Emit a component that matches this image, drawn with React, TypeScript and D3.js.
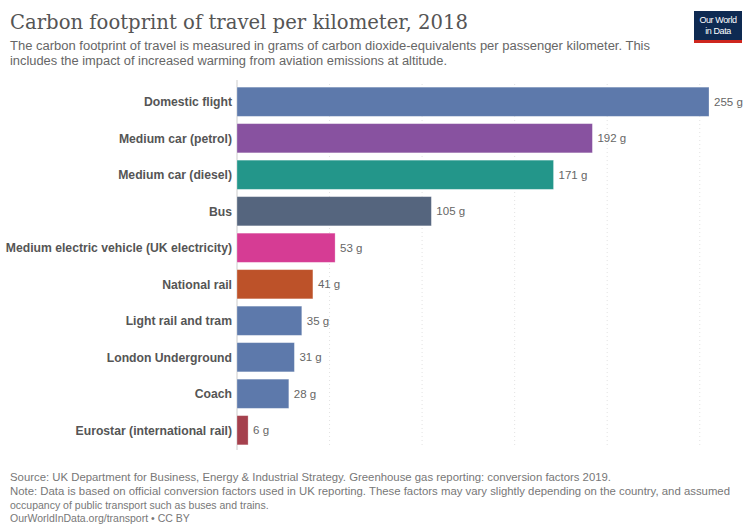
import React from "react";
import * as d3 from "d3";

const categories = [
  "Domestic flight",
  "Medium car (petrol)",
  "Medium car (diesel)",
  "Bus",
  "Medium electric vehicle (UK electricity)",
  "National rail",
  "Light rail and tram",
  "London Underground",
  "Coach",
  "Eurostar (international rail)",
];
const values = [255, 192, 171, 105, 53, 41, 35, 31, 28, 6];
const colors = [
  "#5d79ab",
  "#8852a0",
  "#23968a",
  "#55657e",
  "#d63c94",
  "#bd5229",
  "#5d79ab",
  "#5d79ab",
  "#5d79ab",
  "#a5404d",
];
const gridTicks = [50, 100, 150, 200, 250];

const W = 748;
const H = 524;

export default function App() {
  const x = d3.scaleLinear().domain([0, 255]).range([237, 709]);
  const y = d3
    .scaleBand<string>()
    .domain(categories)
    .range([83.5, 448.5])
    .paddingInner(0.2)
    .paddingOuter(0.1);
  const sans = "'Liberation Sans', Arial, sans-serif";
  return (
    <svg
      width={W}
      height={H}
      viewBox={`0 0 ${W} ${H}`}
      style={{ position: "absolute", left: 0, top: 0, background: "#fff" }}
    >
      <rect width={W} height={H} fill="#fff" />
      <text
        x={10}
        y={29}
        fontFamily="'DejaVu Serif', 'Liberation Serif', serif"
        fontSize={20}
        fill="#555"
        textLength={458}
        lengthAdjust="spacingAndGlyphs"
      >
        Carbon footprint of travel per kilometer, 2018
      </text>
      <text x={10} y={50} fontFamily={sans} fontSize={12} fill="#666" textLength={640} lengthAdjust="spacingAndGlyphs">
        The carbon footprint of travel is measured in grams of carbon dioxide-equivalents per passenger kilometer. This
      </text>
      <text x={10} y={65} fontFamily={sans} fontSize={12} fill="#666" textLength={437} lengthAdjust="spacingAndGlyphs">
        includes the impact of increased warming from aviation emissions at altitude.
      </text>
      {/* logo */}
      <rect x={694} y={11} width={48} height={32} fill="#0e2a52" />
      <rect x={694} y={40} width={48} height={3} fill="#ce261e" />
      <text x={718} y={23} textAnchor="middle" fontFamily={sans} fontSize={9} fill="#fff" letterSpacing={-0.4}>
        Our World
      </text>
      <text x={718} y={34} textAnchor="middle" fontFamily={sans} fontSize={9} fill="#fff" letterSpacing={-0.4}>
        in Data
      </text>
      {/* grid */}
      {gridTicks.map((t) => (
        <line
          key={t}
          x1={x(t)}
          x2={x(t)}
          y1={84}
          y2={448}
          stroke="#e2e2e2"
          strokeWidth={1}
          strokeDasharray="1,3"
        />
      ))}
      <line x1={x(0)} x2={x(0)} y1={80} y2={450} stroke="#ccc" strokeWidth={1} />
      {categories.map((c, i) => {
        const yy = y(c)!;
        const bw = y.bandwidth();
        return (
          <g key={c}>
            <rect
              x={x(0)}
              y={yy}
              width={x(values[i]) - x(0)}
              height={bw}
              fill={colors[i]}
              stroke="#fff"
              strokeOpacity={0.35}
              strokeWidth={0.8}
            />
            <text
              x={232}
              y={yy + bw / 2}
              dy="0.35em"
              textAnchor="end"
              fontFamily={sans}
              fontWeight="bold"
              fontSize={12.2}
              fill="#555"
            >
              {c}
            </text>
            <text
              x={x(values[i]) + 5}
              y={yy + bw / 2}
              dy="0.35em"
              fontFamily={sans}
              fontSize={11.5}
              fill="#666"
            >
              {`${values[i]} g`}
            </text>
          </g>
        );
      })}
      {/* footer */}
      <text x={10} y={481} fontFamily={sans} fontSize={10.5} fill="#777" textLength={601} lengthAdjust="spacingAndGlyphs">
        Source: UK Department for Business, Energy &amp; Industrial Strategy. Greenhouse gas reporting: conversion factors 2019.
      </text>
      <text x={10} y={495} fontFamily={sans} fontSize={10.5} fill="#777" textLength={720} lengthAdjust="spacingAndGlyphs">
        Note: Data is based on official conversion factors used in UK reporting. These factors may vary slightly depending on the country, and assumed
      </text>
      <text x={10} y={509} fontFamily={sans} fontSize={10.5} fill="#777">
        occupancy of public transport such as buses and trains.
      </text>
      <text x={10} y={522} fontFamily={sans} fontSize={10.5} fill="#777">
        OurWorldInData.org/transport • CC BY
      </text>
    </svg>
  );
}
